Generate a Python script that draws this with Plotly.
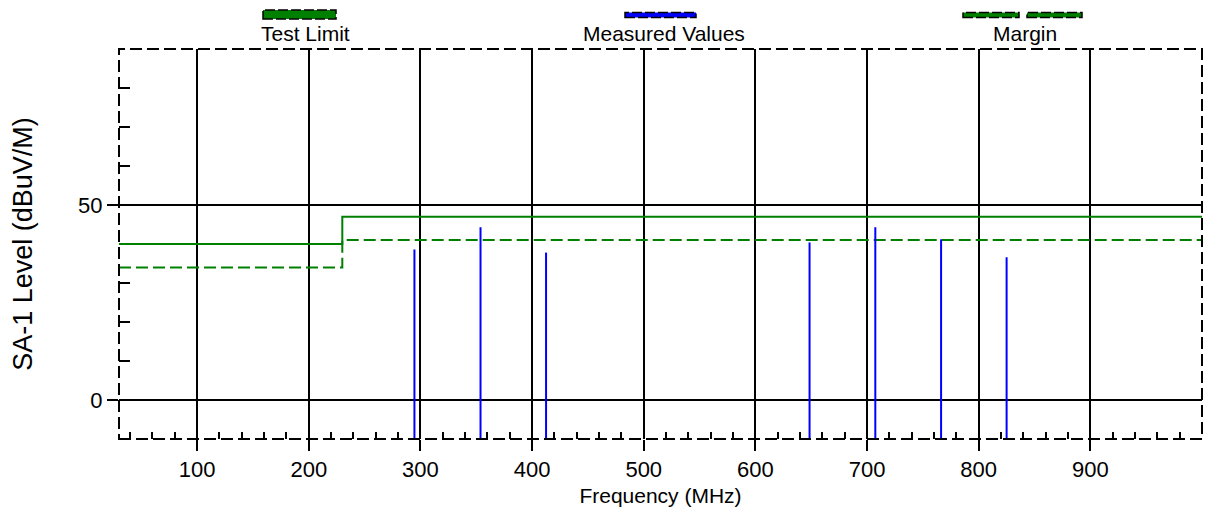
import plotly.graph_objects as go

# ---- data ----
limit_freq = [30, 230, 1000]
limit_level = [40, 47, 47]
margin_freq = [30, 230, 1000]
margin_level = [34, 41, 41]
meas_freq = [294.6, 353.8, 412.5, 648.5, 707.4, 766.3, 825.0]
meas_level = [38.6, 44.3, 37.8, 40.4, 44.3, 41.2, 36.6]
floor_level = -10
x_ticks = [100, 200, 300, 400, 500, 600, 700, 800, 900]
y_ticks = [0, 50]

FONT = "Liberation Sans, Arial, sans-serif"
GREEN = "#008000"
BLUE = "#0000FF"

OFF = 8  # page body margin
W, H = 1215 - OFF, 508 - OFF
ML, MR, MT, MB = 119 - OFF, 13, 49 - OFF, 69
PW, PH = W - ML - MR, H - MT - MB


def px(x):
    # page pixel -> paper fraction
    return (x - OFF - ML) / PW


def py(y):
    return (H - MB - (y - OFF)) / PH


fig = go.Figure()

# limit (step)
fig.add_trace(go.Scatter(x=limit_freq, y=limit_level, mode="lines", line_shape="hv",
                         line=dict(color=GREEN, width=2), hoverinfo="skip"))
fig.add_trace(go.Scatter(x=margin_freq, y=margin_level, mode="lines", line_shape="hv",
                         line=dict(color=GREEN, width=2, dash="12px,5px"), hoverinfo="skip"))

# measured values as vertical sticks
mx, my = [], []
for f, v in zip(meas_freq, meas_level):
    mx += [f, f, None]
    my += [floor_level, v, None]
fig.add_trace(go.Scatter(x=mx, y=my, mode="lines", line=dict(color=BLUE, width=2),
                         hoverinfo="skip"))

shapes = []
# dashed plot border
shapes.append(dict(type="rect", xref="paper", yref="paper", x0=0, x1=1, y0=0, y1=1,
                   line=dict(color="black", width=2, dash="12px,5px"), layer="above"))


# legend symbols
def sym(x0, x1, y0, y1, color):
    return dict(type="rect", xref="paper", yref="paper", x0=px(x0), x1=px(x1),
                y0=py(y1), y1=py(y0), fillcolor=color,
                line=dict(color="black", width=1.5, dash="10px,3px"), layer="above")


shapes.append(sym(263, 336, 10, 19, GREEN))
shapes.append(sym(625, 696, 12.5, 17.5, BLUE))
shapes.append(sym(963, 1019, 12.5, 17.5, GREEN))
shapes.append(sym(1027, 1082, 12.5, 17.5, GREEN))

annotations = []
for text, cx in [("Test Limit", 305), ("Measured Values", 664), ("Margin", 1025)]:
    annotations.append(dict(text=text, xref="paper", yref="paper", x=px(cx), y=py(34),
                            xanchor="center", yanchor="middle", showarrow=False,
                            font=dict(family=FONT, size=21, color="black")))

fig.update_layout(
    width=W, height=H,
    margin=dict(l=ML, r=MR, t=MT, b=MB, autoexpand=False),
    paper_bgcolor="white", plot_bgcolor="white",
    showlegend=False,
    shapes=shapes,
    annotations=annotations,
    font=dict(family=FONT, size=21, color="black"),
)

fig.update_xaxes(
    range=[30, 1000],
    automargin=False,
    tickvals=x_ticks, ticktext=[str(t) for t in x_ticks],
    ticks="outside", ticklen=11, tickwidth=2, tickcolor="black",
    showgrid=True, gridcolor="black", gridwidth=2,
    zeroline=False, showline=False,
    tickfont=dict(family=FONT, size=22, color="black"),
    minor=dict(tickvals=[v for v in range(40, 1000, 20) if v % 100 != 0],
               ticks="inside", ticklen=7, tickwidth=2, tickcolor="black", showgrid=False),
    title=dict(text="Frequency (MHz)", font=dict(family=FONT, size=21, color="black"),
               standoff=6),
)
fig.update_yaxes(
    range=[-10, 90],
    automargin=False,
    tickvals=y_ticks, ticktext=[str(t) for t in y_ticks],
    ticks="outside", ticklen=11, tickwidth=2, tickcolor="black",
    showgrid=True, gridcolor="black", gridwidth=2,
    zeroline=False, showline=False,
    tickfont=dict(family=FONT, size=22, color="black"),
    minor=dict(tickvals=[10, 20, 30, 60, 70, 80],
               ticks="inside", ticklen=11, tickwidth=2, tickcolor="black", showgrid=False),
    title=dict(text="SA-1 Level (dBuV/M)", font=dict(family=FONT, size=27, color="black"),
               standoff=41),
)

fig.write_html("out.html")
